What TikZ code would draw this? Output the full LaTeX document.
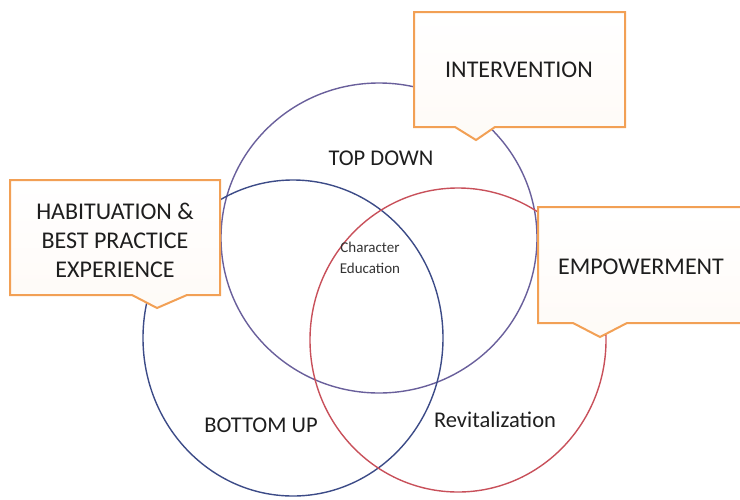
\documentclass[tikz,border=0pt]{standalone}
\usepackage{fontspec}
\setmainfont{Carlito}
\definecolor{topc}{RGB}{105,95,155}
\definecolor{bluec}{RGB}{60,75,135}
\definecolor{redc}{RGB}{200,80,90}
\definecolor{boxc}{RGB}{242,160,85}
\definecolor{txt}{RGB}{30,30,30}
\tikzset{
  ring/.style={line width=1.4pt},
  callout/.style={draw=boxc, line width=2pt, line join=miter, top color=white, bottom color=boxc!5},
  big/.style={font=\fontsize{24}{29}\selectfont, text=txt, align=center, inner sep=0pt},
  mid/.style={font=\fontsize{22.5}{27}\selectfont, text=txt, align=center, inner sep=0pt},
  small/.style={font=\fontsize{15}{21}\selectfont, text=black!80, align=center, inner sep=0pt}
}
\begin{document}
\begin{tikzpicture}[x=1pt,y=-1pt]
\useasboundingbox (0,0) rectangle (740,499);
% circles
\draw[ring, topc] (379,238) ellipse [x radius=158, y radius=155];
\draw[ring, bluec] (293,338) ellipse [x radius=150, y radius=158];
\draw[ring, redc] (458,340) ellipse [x radius=148, y radius=152];
% callouts
\path[callout] (414,12) -- (625,12) -- (625,127) -- (495,127) -- (476,140) -- (455,127) -- (414,127) -- cycle;
\path[callout] (10,180) -- (220,180) -- (220,295) -- (187,295) -- (157,308) -- (132,295) -- (10,295) -- cycle;
\path[callout] (538,207) -- (745,207) -- (745,323) -- (627,323) -- (600,337) -- (573,323) -- (538,323) -- cycle;
% texts
\node[big] (interv) at (519,70) {INTERVENTION};
\node[big] (habit) at (115,240) {HABITUATION \&\\BEST PRACTICE\\EXPERIENCE};
\node[big] (empow) at (641,267) {EMPOWERMENT};
\node[mid] (topdown) at (381,158) {TOP DOWN};
\node[small] (chared) at (370,258) {Character\\Education};
\node[mid] (bottomup) at (261,425) {BOTTOM UP};
\node[mid] (revit) at (495,420) {Revitalization};
\end{tikzpicture}
\end{document}
